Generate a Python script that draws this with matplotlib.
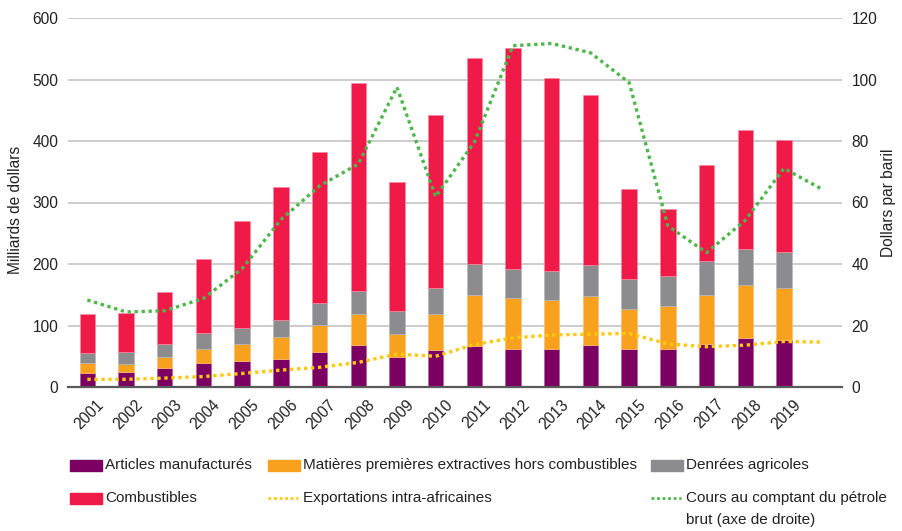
import numpy as np
import matplotlib
matplotlib.use('Agg')
import matplotlib.pyplot as plt
from matplotlib.patches import Rectangle
from matplotlib.lines import Line2D
import matplotlib.transforms as mtransforms

plt.rcParams['font.family'] = ['Liberation Sans Narrow', 'Liberation Sans', 'DejaVu Sans']

years = [str(y) for y in range(2001, 2020)] + ['']
manuf = [23, 25, 31, 39, 43, 46, 57, 68, 48, 60, 67, 62, 62, 69, 62, 62, 70, 79, 76]
extract = [16, 13, 17, 23, 27, 35, 44, 50, 38, 58, 83, 83, 80, 79, 65, 69, 80, 87, 85]
agri = [17, 19, 22, 25, 26, 28, 35, 38, 38, 43, 50, 47, 47, 50, 49, 49, 55, 58, 59]
fuel = [62, 63, 84, 121, 174, 216, 246, 338, 209, 282, 335, 359, 313, 276, 146, 110, 156, 194, 181]
intra = [12.5, 12.5, 14.5, 17, 22, 27.5, 32, 40, 53.5, 50, 69, 80, 84.5, 86, 87, 70, 65.5, 68, 74, 73]
oil = [28.3, 24.4, 24.8, 28.8, 38.5, 54.4, 65.4, 72.5, 97.5, 61.9, 79.6, 111, 111.7, 108.7, 99, 52.4, 43.7, 54.2, 71.1, 64.2]

c_manuf = '#7B0062'
c_extract = '#F7A11E'
c_agri = '#8C8C8F'
c_fuel = '#EF1A48'
c_intra = '#FFC90E'
c_oil = '#4DB84A'
txt_col = '#222222'
fs = 11.2

fig = plt.figure(figsize=(9.03, 5.31), dpi=100)
ax = fig.add_axes([68 / 903, 1 - 387 / 531, (842 - 68) / 903, (387 - 18) / 531])
ax2 = ax.twinx()

x = np.arange(len(years))
xb = x[:len(manuf)]
w = 0.4
m = np.array(manuf)
e = np.array(extract)
a = np.array(agri)
f = np.array(fuel)
ax.bar(xb, m, w, color=c_manuf, edgecolor='#B45FA0', linewidth=0.5, zorder=2)
ax.bar(xb, e, w, bottom=m, color=c_extract, edgecolor='#F9C070', linewidth=0.5, zorder=2)
ax.bar(xb, a, w, bottom=m + e, color=c_agri, edgecolor='#B8B8BA', linewidth=0.5, zorder=2)
ax.bar(xb, f, w, bottom=m + e + a, color=c_fuel, edgecolor='#F58AA0', linewidth=0.5, zorder=2)
ax.plot(x, intra, color=c_intra, lw=2.4, linestyle=(0, (1, 1.1)), zorder=3)
ax2.plot(x, oil, color=c_oil, lw=2.4, linestyle=(0, (1, 1.1)), zorder=3)

ax.set_xlim(-0.5, len(years) - 0.5)
ax.set_ylim(0, 600)
ax.set_yticks(range(0, 601, 100))
ax2.set_ylim(0, 120)
ax2.set_yticks(range(0, 121, 20))
ax.yaxis.grid(True, color='#BEBEBE', lw=1.1, zorder=0)
ax.set_axisbelow(True)

for s in ['left', 'right', 'top']:
    ax.spines[s].set_visible(False)
    ax2.spines[s].set_visible(False)
ax.spines['bottom'].set_color('#5A5A5A')
ax.spines['bottom'].set_linewidth(1.6)
ax2.spines['bottom'].set_visible(False)

ax.tick_params(axis='y', length=0, pad=7, labelsize=fs, labelcolor=txt_col)
ax2.tick_params(axis='y', length=0, pad=7, labelsize=fs, labelcolor=txt_col)
ax.tick_params(axis='x', length=0, pad=7, labelsize=fs, labelcolor=txt_col)

ax.set_xticks(x)
ax.set_xticklabels(years, rotation=45, ha='right', va='top', rotation_mode='anchor')
offset = mtransforms.ScaledTranslation(0.09, 0, fig.dpi_scale_trans)
for lab in ax.get_xticklabels():
    lab.set_transform(lab.get_transform() + offset)

ax.set_ylabel('Milliards de dollars', fontsize=fs, color=txt_col)
ax2.set_ylabel('Dollars par baril', fontsize=fs, color=txt_col)
ax.yaxis.set_label_coords(-0.058, 0.48)
ax2.yaxis.set_label_coords(1.05, 0.5)

# legend drawn by hand in pixel positions
def fx(px):
    return px / 903

def fy(py):
    return 1 - py / 531

items = [
    ('patch', c_manuf, 'Articles manufacturés', 70, 465),
    ('patch', c_extract, 'Matières premières extractives hors combustibles', 268, 465),
    ('patch', c_agri, 'Denrées agricoles', 651, 465),
    ('patch', c_fuel, 'Combustibles', 70, 498),
    ('line', c_intra, 'Exportations intra-africaines', 268, 498),
    ('line', c_oil, 'Cours au comptant du pétrole', 651, 498),
]
for kind, col, txt, px, py in items:
    if kind == 'patch':
        fig.add_artist(Rectangle((fx(px), fy(py + 5.5)), 32 / 903, 11 / 531,
                                 transform=fig.transFigure, color=col))
    else:
        fig.add_artist(Line2D([fx(px), fx(px + 30)], [fy(py), fy(py)],
                              transform=fig.transFigure, color=col, lw=2,
                              linestyle=(0, (1, 1))))
    fig.text(fx(px + 35), fy(py), txt, fontsize=11, color=txt_col, va='center', ha='left')
fig.text(fx(686), fy(520), 'brut (axe de droite)', fontsize=11, color=txt_col,
         va='center', ha='left')

fig.savefig('out.png', dpi=100)
